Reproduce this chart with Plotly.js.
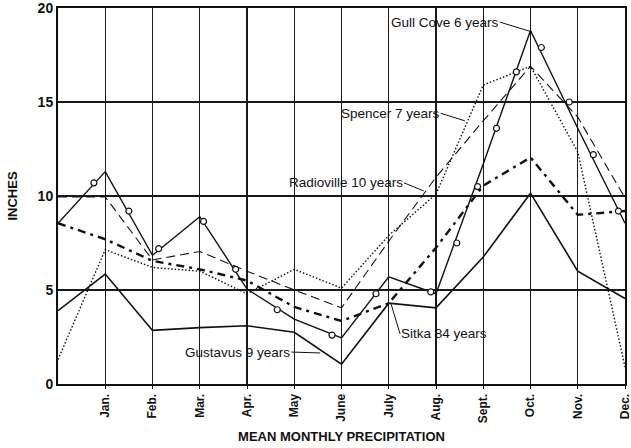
<!DOCTYPE html>
<html>
<head>
<meta charset="utf-8">
<script src="https://cdn.plot.ly/plotly-3.0.1.min.js"></script>
<style>
html,body{margin:0;padding:0;background:#fff;}
#chart{width:631px;height:448px;}
</style>
</head>
<body>
<div id="chart"></div>
<script>
// Month labels (tick text) and positions (0 = start of year, 1 = Jan ... 12 = Dec)
const monthLabels = ['Jan.','Feb.','Mar.','Apr.','May','June','July','Aug.','Sept.','Oct.','Nov.','Dec.'];
const monthTicks = [1,2,3,4,5,6,7,8,9,10,11,12];
const xPos = [0,1,2,3,4,5,6,7,8,9,10,11,12];

// Mean monthly precipitation, inches
const gullCove   = [8.55, 11.3, 6.85, 8.9, 5.05, 3.45, 2.45, 5.7, 4.8, 11.7, 18.8, 13.6, 8.55];
const spencer    = [1.3, 7.15, 6.2, 6.0, 4.8, 6.1, 5.1, 7.9, 10.1, 15.9, 16.9, 12.35, 0.9];
const radioville = [9.95, 9.95, 6.6, 7.05, 6.0, 5.0, 4.05, 7.6, 11.0, 14.0, 16.9, 14.2, 9.9];
const sitka      = [8.55, 7.7, 6.55, 6.1, 5.5, 4.1, 3.35, 4.3, 7.25, 10.55, 12.05, 9.0, 9.2];
const gustavus   = [3.9, 5.85, 2.85, 3.0, 3.1, 2.75, 1.05, 4.3, 4.05, 6.75, 10.15, 6.0, 4.55];

// Open-circle marks drawn along the Gull Cove line
const gullCircleX = [0.76, 1.5, 2.13, 3.08, 3.76, 4.64, 5.8, 6.73, 7.89, 8.44, 8.88, 9.28, 9.7, 10.23, 10.82, 11.33, 11.86];
const gullCircleY = [10.7, 9.2, 7.2, 8.65, 6.1, 3.95, 2.6, 4.8, 4.9, 7.5, 10.5, 13.6, 16.6, 17.9, 15.0, 12.2, 9.2];

const FONT = 'Liberation Sans, Arial, Helvetica, sans-serif';

const traces = [
  {x: xPos, y: gustavus, mode: 'lines', line: {color: '#111', width: 1.6}, name: 'Gustavus 9 years'},
  {x: xPos, y: radioville, mode: 'lines', line: {color: '#111', width: 1.1, dash: '9px,5px'}, name: 'Radioville 10 years'},
  {x: xPos, y: spencer, mode: 'lines', line: {color: '#111', width: 1.4, dash: '1.5px,2px'}, name: 'Spencer 7 years'},
  {x: xPos, y: sitka, mode: 'lines', line: {color: '#111', width: 2.4, dash: '8px,5px,3px,5px'}, name: 'Sitka 84 years'},
  {x: xPos, y: gullCove, mode: 'lines', line: {color: '#111', width: 1.4}, name: 'Gull Cove 6 years'},
  {x: gullCircleX, y: gullCircleY, mode: 'markers', marker: {symbol: 'circle', size: 6, color: '#fff', line: {color: '#111', width: 1.2}}, name: 'Gull Cove marks'}
];

const annFont = {family: FONT, size: 13.5, color: '#111'};
function leader(text, headX, headY, textX, textY, anchor) {
  return {
    text: text, x: headX, y: headY, ax: textX, ay: textY, axref: 'x', ayref: 'y',
    xref: 'x', yref: 'y', showarrow: true, arrowhead: 0, arrowwidth: 1, arrowcolor: '#111',
    xanchor: anchor, yanchor: 'middle', font: annFont, borderpad: 0
  };
}

const layout = {
  width: 631, height: 448,
  margin: {l: 58, r: 6, t: 8, b: 64},
  paper_bgcolor: '#fff', plot_bgcolor: '#fff',
  showlegend: false,
  font: {family: FONT, color: '#111'},
  xaxis: {
    range: [0, 12], tickmode: 'array', tickvals: monthTicks, ticktext: monthLabels,
    tickangle: -90, tickfont: {family: FONT, size: 12, weight: 'bold', color: '#111'},
    ticklabeloverflow: 'allow',
    showgrid: true, gridcolor: '#1a1a1a', gridwidth: 1.1,
    showline: true, linecolor: '#111', linewidth: 2, mirror: true,
    ticks: 'outside', ticklen: 3, tickcolor: '#111', zeroline: false,
    title: {text: 'MEAN MONTHLY PRECIPITATION', font: {family: FONT, size: 13, weight: 'bold', color: '#111'}, standoff: 10},
    fixedrange: true
  },
  yaxis: {
    range: [0, 20], tickmode: 'array', tickvals: [0, 5, 10, 15, 20],
    tickfont: {family: FONT, size: 14, weight: 'bold', color: '#111'},
    ticklabeloverflow: 'allow',
    showgrid: true, gridcolor: '#1a1a1a', gridwidth: 1.1,
    showline: true, linecolor: '#111', linewidth: 2, mirror: true,
    ticks: '', zeroline: false,
    title: {text: 'INCHES', font: {family: FONT, size: 13, weight: 'bold', color: '#111'}, standoff: 17},
    fixedrange: true
  },
  annotations: [
    leader('Gull Cove 6 years', 10.0, 18.75, 9.35, 19.25, 'right'),
    leader('Spencer 7 years', 8.61, 14.0, 8.1, 14.4, 'right'),
    leader('Radioville 10 years', 7.74, 10.27, 7.32, 10.7, 'right'),
    leader('Sitka 84 years', 7.05, 4.25, 7.24, 2.66, 'left'),
    leader('Gustavus 9 years', 5.55, 1.65, 4.94, 1.7, 'right')
  ]
};

Plotly.newPlot('chart', traces, layout, {displayModeBar: false, staticPlot: true});
</script>
</body>
</html>
